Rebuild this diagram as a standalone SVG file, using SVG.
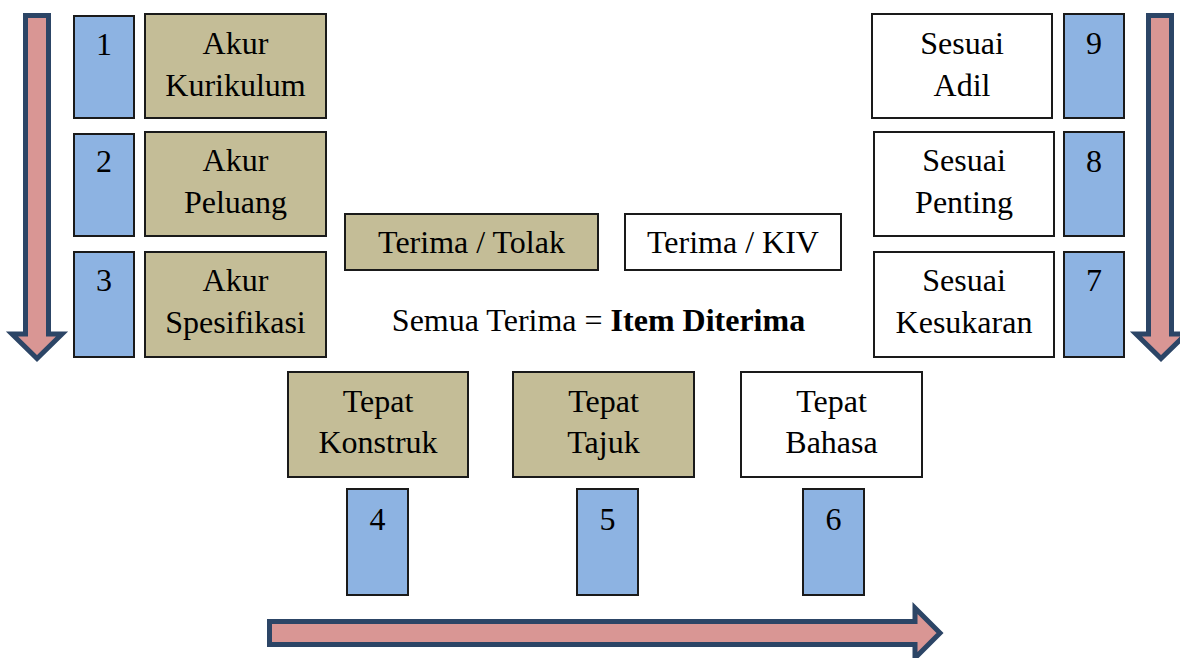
<svg xmlns="http://www.w3.org/2000/svg" width="1180" height="658" viewBox="0 0 1180 658">
<style>
.tan{fill:#C4BD97;stroke:#1a1a1a;stroke-width:2}
.wh{fill:#FFFFFF;stroke:#1a1a1a;stroke-width:2}
.bl{fill:#8DB3E2;stroke:#1a1a1a;stroke-width:2}
.arr{fill:#D99694;stroke:#2C4566;stroke-width:5;stroke-linejoin:miter}
text{font-family:'Times New Roman',Tinos,'Liberation Serif','Nimbus Roman','DejaVu Serif',serif;font-size:32px;fill:#000;text-anchor:middle}
.b{font-weight:bold}
</style>
<rect width="1180" height="658" fill="#FFFFFF"/>
<g id="connectors">
<polygon class="arr" points="25.5,15.5 48.5,15.5 48.5,334 62,334 37,358.5 12,334 25.5,334"/>
<polygon class="arr" points="1148.5,15.5 1171.5,15.5 1171.5,334 1186,334 1161,358.5 1136,334 1148.5,334"/>
<polygon class="arr" points="269.5,621.5 915,621.5 915,608 940,633 915,658 915,644.5 269.5,644.5"/>
</g>
<g id="n1"><rect class="bl" x="74" y="16" width="60" height="102"/><text x="104" y="55">1</text></g>
<g id="akur-kurikulum"><rect class="tan" x="145" y="14" width="181" height="104"/><text x="235.5" y="54">Akur</text><text x="235.5" y="96">Kurikulum</text></g>
<g id="n2"><rect class="bl" x="74" y="134" width="60" height="102"/><text x="104" y="172">2</text></g>
<g id="akur-peluang"><rect class="tan" x="145" y="132" width="181" height="104"/><text x="235.5" y="171">Akur</text><text x="235.5" y="213">Peluang</text></g>
<g id="n3"><rect class="bl" x="74" y="252" width="60" height="105"/><text x="104" y="291">3</text></g>
<g id="akur-spesifikasi"><rect class="tan" x="145" y="252" width="181" height="105"/><text x="235.5" y="291">Akur</text><text x="235.5" y="333">Spesifikasi</text></g>
<g id="terima-tolak"><rect class="tan" x="345" y="214" width="253" height="56"/><text x="471.5" y="253">Terima / Tolak</text></g>
<g id="terima-kiv"><rect class="wh" x="625" y="214" width="216" height="56"/><text x="733" y="253">Terima / KIV</text></g>
<g id="semua"><text x="598.5" y="331">Semua Terima = <tspan class="b">Item Diterima</tspan></text></g>
<g id="sesuai-adil"><rect class="wh" x="872" y="14" width="180" height="104"/><text x="962" y="54">Sesuai</text><text x="962" y="96">Adil</text></g>
<g id="n9"><rect class="bl" x="1064" y="14" width="60" height="104"/><text x="1094" y="54">9</text></g>
<g id="sesuai-penting"><rect class="wh" x="874" y="132" width="180" height="104"/><text x="964" y="171">Sesuai</text><text x="964" y="213">Penting</text></g>
<g id="n8"><rect class="bl" x="1064" y="132" width="60" height="104"/><text x="1094" y="172">8</text></g>
<g id="sesuai-kesukaran"><rect class="wh" x="874" y="252" width="180" height="105"/><text x="964" y="291">Sesuai</text><text x="964" y="333">Kesukaran</text></g>
<g id="n7"><rect class="bl" x="1064" y="252" width="60" height="105"/><text x="1094" y="291">7</text></g>
<g id="tepat-konstruk"><rect class="tan" x="288" y="372" width="180" height="105"/><text x="378" y="412">Tepat</text><text x="378" y="453">Konstruk</text></g>
<g id="tepat-tajuk"><rect class="tan" x="513" y="372" width="181" height="105"/><text x="603.5" y="412">Tepat</text><text x="603.5" y="453">Tajuk</text></g>
<g id="tepat-bahasa"><rect class="wh" x="741" y="372" width="181" height="105"/><text x="831.5" y="412">Tepat</text><text x="831.5" y="453">Bahasa</text></g>
<g id="n4"><rect class="bl" x="347" y="489" width="61" height="106"/><text x="377.5" y="530">4</text></g>
<g id="n5"><rect class="bl" x="577" y="489" width="61" height="106"/><text x="607.5" y="530">5</text></g>
<g id="n6"><rect class="bl" x="803" y="489" width="61" height="106"/><text x="833.5" y="530">6</text></g>
</svg>
